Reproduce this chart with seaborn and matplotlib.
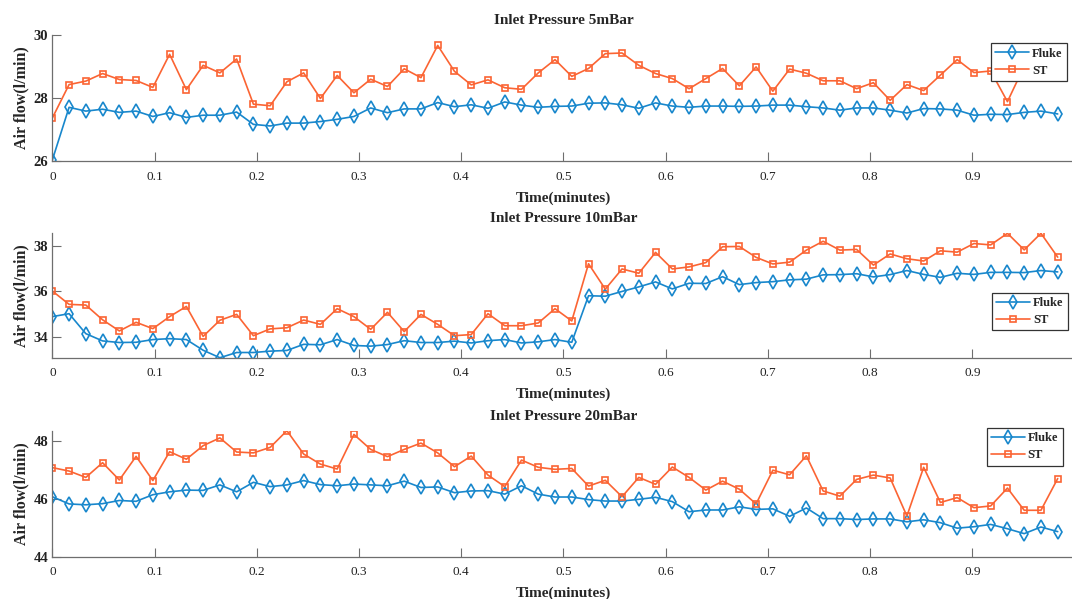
import numpy as np
import pandas as pd
import matplotlib
matplotlib.use("Agg")
import matplotlib.pyplot as plt
import seaborn as sns

# Sampling grid: 61 readings over one minute
time_min = np.arange(61) / 61

fluke_5 = [26.03, 27.70, 27.58, 27.64, 27.54, 27.58, 27.41, 27.53, 27.38, 27.45,
           27.45, 27.55, 27.16, 27.11, 27.20, 27.20, 27.25, 27.32, 27.41, 27.68,
           27.53, 27.65, 27.65, 27.85, 27.72, 27.78, 27.67, 27.87, 27.77, 27.70,
           27.73, 27.74, 27.83, 27.84, 27.78, 27.67, 27.84, 27.74, 27.70, 27.74,
           27.74, 27.73, 27.74, 27.77, 27.77, 27.72, 27.68, 27.61, 27.68, 27.68,
           27.61, 27.52, 27.66, 27.65, 27.61, 27.45, 27.48, 27.47, 27.54, 27.58,
           27.49]
st_5 = [27.36, 28.42, 28.53, 28.77, 28.58, 28.55, 28.33, 29.38, 28.26, 29.03,
        28.79, 29.23, 27.80, 27.75, 28.51, 28.79, 27.98, 28.71, 28.16, 28.59,
        28.36, 28.92, 28.64, 29.66, 28.84, 28.41, 28.57, 28.32, 28.27, 28.79,
        29.21, 28.68, 28.93, 29.40, 29.42, 29.03, 28.77, 28.61, 28.29, 28.61,
        28.93, 28.38, 28.98, 28.21, 28.91, 28.78, 28.54, 28.54, 28.29, 28.48,
        27.92, 28.42, 28.23, 28.72, 29.21, 28.80, 28.85, 27.88, 29.00, 29.20,
        28.90]

fluke_10 = [34.88, 35.01, 34.13, 33.81, 33.74, 33.75, 33.87, 33.91, 33.87, 33.40,
            33.07, 33.30, 33.30, 33.36, 33.39, 33.66, 33.64, 33.87, 33.61, 33.58,
            33.65, 33.82, 33.74, 33.74, 33.80, 33.72, 33.82, 33.87, 33.72, 33.77,
            33.87, 33.75, 35.80, 35.78, 35.99, 36.19, 36.41, 36.10, 36.35, 36.34,
            36.64, 36.29, 36.38, 36.42, 36.50, 36.53, 36.72, 36.73, 36.77, 36.63,
            36.73, 36.91, 36.74, 36.61, 36.79, 36.74, 36.83, 36.83, 36.82, 36.91,
            36.85]
st_10 = [36.01, 35.42, 35.39, 34.74, 34.25, 34.63, 34.35, 34.88, 35.33, 34.01,
         34.72, 34.98, 34.04, 34.34, 34.39, 34.73, 34.54, 35.23, 34.88, 34.32,
         35.07, 34.22, 34.98, 34.54, 34.04, 34.09, 35.01, 34.48, 34.48, 34.60,
         35.23, 34.69, 37.21, 36.09, 36.98, 36.79, 37.71, 36.98, 37.07, 37.26,
         37.96, 37.97, 37.49, 37.20, 37.28, 37.81, 38.20, 37.81, 37.84, 37.15,
         37.64, 37.43, 37.33, 37.78, 37.72, 38.10, 38.04, 38.55, 37.82, 38.55,
         37.50]

fluke_20 = [46.08, 45.83, 45.80, 45.84, 45.95, 45.92, 46.15, 46.25, 46.31, 46.30,
            46.49, 46.25, 46.58, 46.43, 46.49, 46.64, 46.50, 46.46, 46.52, 46.49,
            46.46, 46.62, 46.40, 46.42, 46.22, 46.28, 46.29, 46.17, 46.46, 46.17,
            46.07, 46.07, 45.98, 45.93, 45.93, 45.99, 46.06, 45.91, 45.56, 45.62,
            45.62, 45.73, 45.64, 45.66, 45.40, 45.69, 45.32, 45.32, 45.29, 45.31,
            45.31, 45.21, 45.28, 45.18, 44.99, 45.04, 45.12, 44.97, 44.80, 45.03,
            44.87]
st_20 = [47.09, 46.97, 46.75, 47.26, 46.66, 47.48, 46.64, 47.64, 47.38, 47.85,
         48.12, 47.63, 47.60, 47.79, 48.37, 47.56, 47.21, 47.04, 48.24, 47.72,
         47.47, 47.72, 47.94, 47.60, 47.12, 47.49, 46.83, 46.43, 47.35, 47.10,
         47.03, 47.06, 46.45, 46.65, 46.08, 46.75, 46.51, 47.11, 46.75, 46.31,
         46.62, 46.34, 45.83, 47.00, 46.84, 47.50, 46.28, 46.10, 46.68, 46.83,
         46.73, 45.41, 47.10, 45.88, 46.05, 45.70, 45.76, 46.38, 45.61, 45.61,
         46.71]

titles = ["Inlet Pressure 5mBar", "Inlet Pressure 10mBar", "Inlet Pressure 20mBar"]
y_limits = [(26, 30), (33.07, 38.55), (44, 48.37)]
y_ticks = [[26, 28, 30], [34, 36, 38], [44, 46, 48]]
x_ticks = [0, 0.1, 0.2, 0.3, 0.4, 0.5, 0.6, 0.7, 0.8, 0.9, 1.0]
# the axis runs to 1.0 at the very right edge of the figure; its label is left blank
x_tick_labels = ["0", "0.1", "0.2", "0.3", "0.4", "0.5", "0.6", "0.7", "0.8", "0.9", ""]
series_names = ["Fluke", "ST"]

sns.set_style("ticks")
plt.rcParams["font.family"] = ["Liberation Serif", "DejaVu Serif"]

BLUE = "#1887CC"
ORANGE = "#FB6433"
AXIS_GREY = "#6e6e6e"

fig = plt.figure(figsize=(10.72, 5.99), dpi=100)

# axes rectangles [left, bottom, width, height] in figure fraction
rects = [
    [0.0488, 0.7312, 0.9535, 0.2109],
    [0.0488, 0.4028, 0.9535, 0.2077],
    [0.0488, 0.0706, 0.9535, 0.2104],
]
legend_anchor = [(0.918, 0.932), (0.919, 0.5225), (0.914, 1.021)]

panels = [(fluke_5, st_5), (fluke_10, st_10), (fluke_20, st_20)]

for k, (fl, st) in enumerate(panels):
    ax = fig.add_axes(rects[k])
    df = pd.DataFrame({"time": time_min, series_names[0]: fl, series_names[1]: st})
    sns.lineplot(data=df, x="time", y="Fluke", ax=ax, color=BLUE, marker="d",
                 markersize=7.5, markerfacecolor="none", markeredgecolor=BLUE,
                 markeredgewidth=1.2, linewidth=1.2, label="Fluke")
    sns.lineplot(data=df, x="time", y="ST", ax=ax, color=ORANGE, marker="s",
                 markersize=5, markerfacecolor="none", markeredgecolor=ORANGE,
                 markeredgewidth=1.2, linewidth=1.2, label="ST")

    ax.set_xlim(0, 1)
    ax.set_ylim(*y_limits[k])
    ax.set_xticks(x_ticks)
    ax.set_xticklabels(x_tick_labels)
    ax.set_yticks(y_ticks[k])
    for lab in ax.get_yticklabels():
        lab.set_fontweight("bold")

    sns.despine(ax=ax)
    for side in ("left", "bottom"):
        ax.spines[side].set_color(AXIS_GREY)
        ax.spines[side].set_linewidth(0.9)
    ax.tick_params(axis="both", direction="in", length=6.5, width=0.8,
                   color=AXIS_GREY, labelcolor="#222222")
    ax.tick_params(axis="x", labelsize=9.5, pad=7)
    ax.tick_params(axis="y", labelsize=10.5, pad=3)

    ax.set_title(titles[k], fontsize=11, fontweight="bold", pad=8)
    ax.set_xlabel("Time(minutes)", fontsize=11, fontweight="bold", labelpad=6)
    ax.set_ylabel("Air flow(l/min)", fontsize=11.5, fontweight="bold", labelpad=3)

    leg = ax.legend(loc="upper left", bbox_to_anchor=legend_anchor[k],
                    borderaxespad=0, frameon=True, fancybox=False,
                    prop={"weight": "bold", "size": 9}, handlelength=2.7,
                    handletextpad=0.25, borderpad=0.35, labelspacing=0.4)
    leg.get_frame().set_edgecolor("#333333")
    leg.get_frame().set_linewidth(0.9)
    leg.get_frame().set_facecolor("white")
    leg.get_frame().set_alpha(1)

fig.savefig("out.png", dpi=100)
